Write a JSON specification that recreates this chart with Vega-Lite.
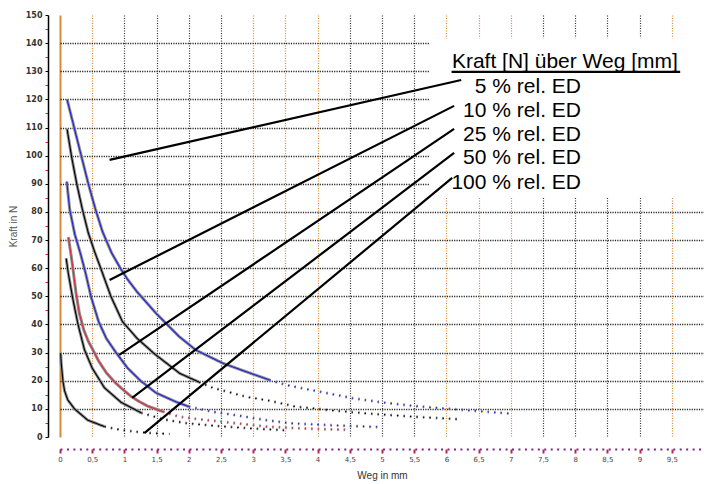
{
  "$schema": "https://vega.github.io/schema/vega-lite/v6.json",
  "width": 644,
  "height": 422,
  "autosize": {"type": "none"},
  "padding": {"left": 60, "top": 15, "right": 0, "bottom": 47},
  "background": "white",
  "config": {"view": {"stroke": null}},
  "datasets": {
    "box": [{"x": 5.73, "x2": 10, "y": 85, "y2": 141.7}],
    "curves": [
      {"c": "A", "sec": "s", "x": 0.11, "y": 120},
      {"c": "A", "sec": "s", "x": 0.22, "y": 110},
      {"c": "A", "sec": "s", "x": 0.33, "y": 100},
      {"c": "A", "sec": "s", "x": 0.44, "y": 90},
      {"c": "A", "sec": "s", "x": 0.55, "y": 81},
      {"c": "A", "sec": "s", "x": 0.66, "y": 73},
      {"c": "A", "sec": "s", "x": 0.8, "y": 65.5},
      {"c": "A", "sec": "s", "x": 0.95, "y": 59.5},
      {"c": "A", "sec": "s", "x": 1.05, "y": 56},
      {"c": "A", "sec": "s", "x": 1.2, "y": 51.5},
      {"c": "A", "sec": "s", "x": 1.49, "y": 44},
      {"c": "A", "sec": "s", "x": 1.85, "y": 35.7},
      {"c": "A", "sec": "s", "x": 2.11, "y": 30.9},
      {"c": "A", "sec": "s", "x": 2.53, "y": 26.2},
      {"c": "A", "sec": "s", "x": 2.89, "y": 23.2},
      {"c": "A", "sec": "s", "x": 3.25, "y": 20.3},
      {"c": "A", "sec": "d", "x": 3.25, "y": 20.3},
      {"c": "A", "sec": "d", "x": 3.51, "y": 18.5},
      {"c": "A", "sec": "d", "x": 4.03, "y": 16.1},
      {"c": "A", "sec": "d", "x": 4.54, "y": 13.8},
      {"c": "A", "sec": "d", "x": 5.0, "y": 12.3},
      {"c": "A", "sec": "d", "x": 5.5, "y": 11},
      {"c": "A", "sec": "d", "x": 6.04, "y": 10},
      {"c": "A", "sec": "d", "x": 6.5, "y": 9.2},
      {"c": "A", "sec": "d", "x": 7.0, "y": 8.3},
      {"c": "B", "sec": "s", "x": 0.11, "y": 109.4},
      {"c": "B", "sec": "s", "x": 0.18, "y": 99.6},
      {"c": "B", "sec": "s", "x": 0.26, "y": 90},
      {"c": "B", "sec": "s", "x": 0.35, "y": 80.7},
      {"c": "B", "sec": "s", "x": 0.44, "y": 72.5},
      {"c": "B", "sec": "s", "x": 0.535, "y": 66},
      {"c": "B", "sec": "s", "x": 0.64, "y": 59.5},
      {"c": "B", "sec": "s", "x": 0.79, "y": 50},
      {"c": "B", "sec": "s", "x": 0.97, "y": 41},
      {"c": "B", "sec": "s", "x": 1.2, "y": 35},
      {"c": "B", "sec": "s", "x": 1.47, "y": 29.5},
      {"c": "B", "sec": "s", "x": 1.86, "y": 22.6},
      {"c": "B", "sec": "s", "x": 2.16, "y": 19.5},
      {"c": "B", "sec": "d", "x": 2.16, "y": 19.5},
      {"c": "B", "sec": "d", "x": 2.37, "y": 17.5},
      {"c": "B", "sec": "d", "x": 2.89, "y": 14.3},
      {"c": "B", "sec": "d", "x": 3.25, "y": 12.9},
      {"c": "B", "sec": "d", "x": 3.66, "y": 10.8},
      {"c": "B", "sec": "d", "x": 4.2, "y": 9.5},
      {"c": "B", "sec": "d", "x": 4.8, "y": 8.3},
      {"c": "B", "sec": "d", "x": 5.5, "y": 7.2},
      {"c": "B", "sec": "d", "x": 6.2, "y": 6.3},
      {"c": "C", "sec": "s", "x": 0.105, "y": 90.8},
      {"c": "C", "sec": "s", "x": 0.15, "y": 81},
      {"c": "C", "sec": "s", "x": 0.23, "y": 72},
      {"c": "C", "sec": "s", "x": 0.32, "y": 65},
      {"c": "C", "sec": "s", "x": 0.4, "y": 58},
      {"c": "C", "sec": "s", "x": 0.48, "y": 50},
      {"c": "C", "sec": "s", "x": 0.6, "y": 41},
      {"c": "C", "sec": "s", "x": 0.72, "y": 35},
      {"c": "C", "sec": "s", "x": 0.87, "y": 30},
      {"c": "C", "sec": "s", "x": 1.05, "y": 24.5},
      {"c": "C", "sec": "s", "x": 1.25, "y": 20},
      {"c": "C", "sec": "s", "x": 1.49, "y": 15.7},
      {"c": "C", "sec": "s", "x": 1.8, "y": 12.5},
      {"c": "C", "sec": "s", "x": 2.0, "y": 10.8},
      {"c": "C", "sec": "d", "x": 2.0, "y": 10.8},
      {"c": "C", "sec": "d", "x": 2.37, "y": 9},
      {"c": "C", "sec": "d", "x": 2.8, "y": 7.5},
      {"c": "C", "sec": "d", "x": 3.2, "y": 6},
      {"c": "C", "sec": "d", "x": 3.56, "y": 4.9},
      {"c": "C", "sec": "d", "x": 4.2, "y": 4.2},
      {"c": "C", "sec": "d", "x": 5.0, "y": 3.5},
      {"c": "D", "sec": "s", "x": 0.13, "y": 71},
      {"c": "D", "sec": "s", "x": 0.17, "y": 65},
      {"c": "D", "sec": "s", "x": 0.2, "y": 60},
      {"c": "D", "sec": "s", "x": 0.25, "y": 51},
      {"c": "D", "sec": "s", "x": 0.3, "y": 44},
      {"c": "D", "sec": "s", "x": 0.37, "y": 38},
      {"c": "D", "sec": "s", "x": 0.44, "y": 34},
      {"c": "D", "sec": "s", "x": 0.51, "y": 31},
      {"c": "D", "sec": "s", "x": 0.6, "y": 27},
      {"c": "D", "sec": "s", "x": 0.72, "y": 22.8},
      {"c": "D", "sec": "s", "x": 0.85, "y": 19.5},
      {"c": "D", "sec": "s", "x": 0.97, "y": 17},
      {"c": "D", "sec": "s", "x": 1.1, "y": 14.5},
      {"c": "D", "sec": "s", "x": 1.23, "y": 12.6},
      {"c": "D", "sec": "s", "x": 1.36, "y": 11},
      {"c": "D", "sec": "s", "x": 1.6, "y": 9},
      {"c": "D", "sec": "d", "x": 1.6, "y": 9},
      {"c": "D", "sec": "d", "x": 1.85, "y": 7.2},
      {"c": "D", "sec": "d", "x": 2.2, "y": 6.2},
      {"c": "D", "sec": "d", "x": 2.53, "y": 5.4},
      {"c": "D", "sec": "d", "x": 3.2, "y": 3.7},
      {"c": "D", "sec": "d", "x": 3.8, "y": 3},
      {"c": "D", "sec": "d", "x": 4.5, "y": 2.5},
      {"c": "E", "sec": "s", "x": 0.096, "y": 63.5},
      {"c": "E", "sec": "s", "x": 0.13, "y": 58},
      {"c": "E", "sec": "s", "x": 0.2, "y": 49},
      {"c": "E", "sec": "s", "x": 0.28, "y": 40},
      {"c": "E", "sec": "s", "x": 0.38, "y": 31},
      {"c": "E", "sec": "s", "x": 0.5, "y": 24.5},
      {"c": "E", "sec": "s", "x": 0.69, "y": 17.5},
      {"c": "E", "sec": "s", "x": 0.95, "y": 12.3},
      {"c": "E", "sec": "s", "x": 1.26, "y": 8.6},
      {"c": "E", "sec": "d", "x": 1.26, "y": 8.6},
      {"c": "E", "sec": "d", "x": 1.62, "y": 6.2},
      {"c": "E", "sec": "d", "x": 2.0, "y": 4.8},
      {"c": "E", "sec": "d", "x": 2.5, "y": 3.8},
      {"c": "E", "sec": "d", "x": 3.0, "y": 3},
      {"c": "E", "sec": "d", "x": 3.5, "y": 2.4},
      {"c": "F", "sec": "s", "x": 0.01, "y": 29.8},
      {"c": "F", "sec": "s", "x": 0.02, "y": 26},
      {"c": "F", "sec": "s", "x": 0.045, "y": 20},
      {"c": "F", "sec": "s", "x": 0.07, "y": 16.5},
      {"c": "F", "sec": "s", "x": 0.12, "y": 13.2},
      {"c": "F", "sec": "s", "x": 0.225, "y": 10},
      {"c": "F", "sec": "s", "x": 0.43, "y": 6},
      {"c": "F", "sec": "s", "x": 0.69, "y": 3.7},
      {"c": "F", "sec": "d", "x": 0.69, "y": 3.7},
      {"c": "F", "sec": "d", "x": 0.95, "y": 2.5},
      {"c": "F", "sec": "d", "x": 1.16, "y": 1.9},
      {"c": "F", "sec": "d", "x": 1.4, "y": 1.4},
      {"c": "F", "sec": "d", "x": 1.7, "y": 1.1}
    ],
    "notes": [
      {"x": 6.23, "y": 126.9, "x2": 0.77, "y2": 98.5},
      {"x": 6.12, "y": 117.7, "x2": 0.77, "y2": 55.8},
      {"x": 6.12, "y": 109.5, "x2": 0.92, "y2": 29.2},
      {"x": 6.12, "y": 101, "x2": 1.12, "y2": 13.9},
      {"x": 6.09, "y": 92.1, "x2": 1.31, "y2": 1.4},
      {"x": 6.08, "y": 129.8, "x2": 9.63, "y2": 129.8}
    ],
    "title": [{"t": "Kraft [N] über Weg [mm]", "x": 7.84, "y": 133.3}],
    "entries": [
      {"t": "5 % rel. ED", "x": 8.09, "y": 124.4},
      {"t": "10 % rel. ED", "x": 8.09, "y": 115.9},
      {"t": "25 % rel. ED", "x": 8.09, "y": 107.3},
      {"t": "50 % rel. ED", "x": 8.09, "y": 99.2},
      {"t": "100 % rel. ED", "x": 8.09, "y": 90.3}
    ]
  },
  "encoding": {
    "x": {
      "field": "x",
      "type": "quantitative",
      "scale": {"domain": [0, 10], "nice": false, "zero": false},
      "axis": {
        "values": [0, 0.5, 1, 1.5, 2, 2.5, 3, 3.5, 4, 4.5, 5, 5.5, 6, 6.5, 7, 7.5, 8, 8.5, 9, 9.5],
        "offset": 12,
        "title": "Weg in mm",
        "titleFont": "Liberation Sans",
        "titleFontSize": 10,
        "titleFontWeight": "normal",
        "titleColor": "#333",
        "titlePadding": 8,
        "labelFont": "DejaVu Sans",
        "labelFontSize": 7,
        "labelColor": "#444",
        "labelPadding": 2,
        "labelFlush": false,
        "labelExpr": "replace(format(datum.value, '~g'), '.', ',')",
        "domainColor": "#7a2a7a",
        "domainDash": [2, 4.45],
        "domainWidth": 2,
        "tickColor": "#c02050",
        "tickSize": 4,
        "tickWidth": 2,
        "grid": true,
        "gridColor": {"condition": {"test": "indexof([0, 0.5, 3, 3.5, 4, 6, 6.5, 7, 9.5], datum.value) >= 0", "value": "#d9893a"}, "value": "#333333"},
        "gridDash": {"condition": {"test": "datum.value === 0", "value": [1, 0]}, "value": [1, 1.5]},
        "gridWidth": {"condition": {"test": "datum.value === 0", "value": 2}, "value": 1.2}
      }
    },
    "y": {
      "field": "y",
      "type": "quantitative",
      "scale": {"domain": [0, 150], "nice": false},
      "axis": {
        "values": [0, 5, 10, 15, 20, 25, 30, 35, 40, 45, 50, 55, 60, 65, 70, 75, 80, 85, 90, 95, 100, 105, 110, 115, 120, 125, 130, 135, 140, 145, 150],
        "offset": 12,
        "title": "Kraft in N",
        "titleFont": "Liberation Sans",
        "titleFontSize": 10,
        "titleFontWeight": "normal",
        "titleColor": "#555",
        "titlePadding": 7,
        "labelExpr": "datum.value % 10 === 0 ? datum.label : ''",
        "labelOverlap": false,
        "labelFont": "DejaVu Sans",
        "labelFontSize": 8,
        "labelFontWeight": "bold",
        "labelColor": "#333",
        "labelPadding": 3,
        "tickSize": 3,
        "tickColor": {"condition": {"test": "datum.value % 10 !== 0", "value": "#e02040"}, "value": "#000"},
        "domainColor": "#000",
        "domainWidth": 1.5,
        "grid": true,
        "gridColor": "#000000",
        "gridDash": [1.2, 1.2],
        "gridWidth": 1.5,
        "gridOpacity": {"condition": {"test": "datum.value % 10 !== 0 || datum.value === 0 || datum.value === 150", "value": 0}, "value": 0.85}
      }
    }
  },
  "layer": [
    {
      "data": {"name": "box"},
      "mark": {"type": "rect", "fill": "white"},
      "encoding": {"x2": {"field": "x2"}, "y2": {"field": "y2"}}
    },
    {
      "data": {"name": "curves"},
      "mark": {"type": "line", "color": "#8f8f8f", "strokeWidth": 3},
      "encoding": {
        "detail": {"field": "c"},
        "strokeDash": {"field": "sec", "type": "nominal", "scale": {"domain": ["s", "d"], "range": [[1, 0], [1.5, 5]]}, "legend": null}
      }
    },
    {
      "data": {"name": "curves"},
      "mark": {"type": "line", "strokeWidth": 1.1},
      "encoding": {
        "color": {"field": "c", "type": "nominal", "scale": {"domain": ["A", "B", "C", "D", "E", "F"], "range": ["#2020e0", "#000000", "#2020e0", "#e02a3a", "#000000", "#000000"]}, "legend": null},
        "strokeDash": {"field": "sec", "type": "nominal", "scale": {"domain": ["s", "d"], "range": [[1, 0], [1.5, 5]]}, "legend": null}
      }
    },
    {
      "data": {"name": "notes"},
      "mark": {"type": "rule", "color": "#000", "strokeWidth": 2.2},
      "encoding": {"x2": {"field": "x2"}, "y2": {"field": "y2"}}
    },
    {
      "data": {"name": "title"},
      "mark": {"type": "text", "font": "Liberation Sans", "fontSize": 21, "align": "center", "baseline": "middle", "color": "#000"},
      "encoding": {"text": {"field": "t"}}
    },
    {
      "data": {"name": "entries"},
      "mark": {"type": "text", "font": "Liberation Sans", "fontSize": 21, "align": "right", "baseline": "middle", "color": "#000"},
      "encoding": {"text": {"field": "t"}}
    }
  ]
}
